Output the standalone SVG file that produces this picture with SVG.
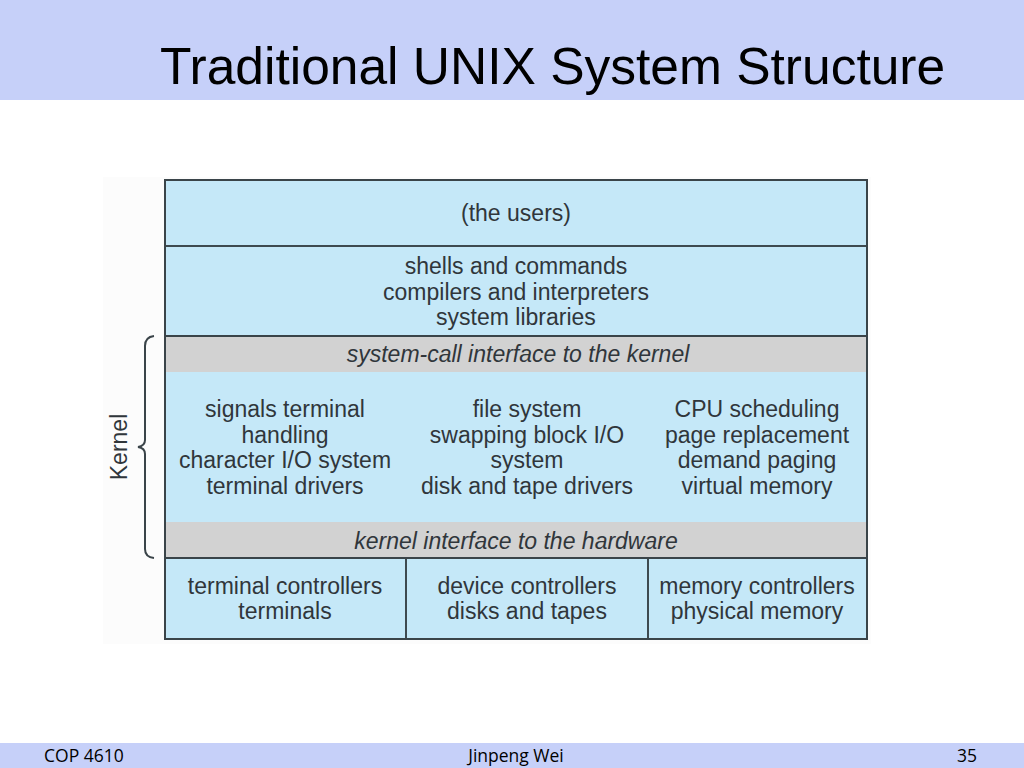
<svg xmlns="http://www.w3.org/2000/svg" width="1024" height="768" viewBox="0 0 1024 768">
<style>
.bar{fill:#c6d0f9}
.cell{fill:#c5e8f8;stroke:#3e4a50;stroke-width:2}
.band{fill:#d2d2d2}
.line{stroke:#3a4449;stroke-width:2;fill:none}
.t{font-family:"Liberation Sans",Arial,sans-serif;font-size:23px;fill:#30363b;text-anchor:middle}
.i{font-style:italic}
.title{font-family:"Liberation Sans",Arial,sans-serif;font-size:51.5px;fill:#000}
.foot{font-family:"Open Sans","Liberation Sans",sans-serif;font-size:17.5px;fill:#000}
</style>
<rect width="1024" height="768" fill="#ffffff"/>
<rect class="bar" x="0" y="0" width="1024" height="100"/>
<text class="title" x="160" y="84">Traditional UNIX System Structure</text>
<rect x="103" y="177" width="768" height="467" fill="#fcfcfc"/>

<g id="users">
<rect class="cell" x="165" y="180" width="702" height="66"/>
<text class="t" x="516" y="221">(the users)</text>
</g>
<g id="shells">
<rect class="cell" x="165" y="246" width="702" height="90"/>
<text class="t" x="516" y="274">shells and commands</text>
<text class="t" x="516" y="300">compilers and interpreters</text>
<text class="t" x="516" y="325">system libraries</text>
</g>
<g id="syscall">
<rect class="band" x="165" y="337" width="702" height="35"/>
<text class="t i" x="518" y="362">system-call interface to the kernel</text>
</g>
<g id="kernel-body">
<rect x="165" y="372" width="702" height="150" fill="#c5e8f8"/>
<text class="t" x="285" y="417">signals terminal</text>
<text class="t" x="285" y="443">handling</text>
<text class="t" x="285" y="468">character I/O system</text>
<text class="t" x="285" y="494">terminal drivers</text>
<text class="t" x="527" y="417">file system</text>
<text class="t" x="527" y="443">swapping block I/O</text>
<text class="t" x="527" y="468">system</text>
<text class="t" x="527" y="494">disk and tape drivers</text>
<text class="t" x="757" y="417">CPU scheduling</text>
<text class="t" x="757" y="443">page replacement</text>
<text class="t" x="757" y="468">demand paging</text>
<text class="t" x="757" y="494">virtual memory</text>
</g>
<g id="hwiface">
<rect class="band" x="165" y="522" width="702" height="36"/>
<text class="t i" x="516" y="549">kernel interface to the hardware</text>
</g>
<g id="term-ctrl">
<rect class="cell" x="165" y="558" width="241" height="81"/>
<text class="t" x="285" y="594">terminal controllers</text>
<text class="t" x="285" y="619">terminals</text>
</g>
<g id="dev-ctrl">
<rect class="cell" x="406" y="558" width="242" height="81"/>
<text class="t" x="527" y="594">device controllers</text>
<text class="t" x="527" y="619">disks and tapes</text>
</g>
<g id="mem-ctrl">
<rect class="cell" x="648" y="558" width="219" height="81"/>
<text class="t" x="757" y="594">memory controllers</text>
<text class="t" x="757" y="619">physical memory</text>
</g>
<g id="outline">
<rect x="165" y="180" width="702" height="459" class="line"/>
<line class="line" x1="165" y1="336" x2="867" y2="336"/>
<line class="line" x1="165" y1="558" x2="867" y2="558"/>
</g>
<g id="connectors">
<path class="line" d="M154,336 Q145,337 145,346 L145,440 Q145,446 138,447 Q145,448 145,454 L145,549 Q145,557 154,558"/>
</g>
<g id="kernel-label">
<text class="t" transform="translate(127,447) rotate(-90)" x="0" y="0">Kernel</text>
</g>
<rect class="bar" x="0" y="743" width="1024" height="25"/>
<text class="foot" x="44" y="762">COP 4610</text>
<text class="foot" x="516" y="762" text-anchor="middle">Jinpeng Wei</text>
<text class="foot" x="977" y="762" text-anchor="end">35</text>
</svg>
